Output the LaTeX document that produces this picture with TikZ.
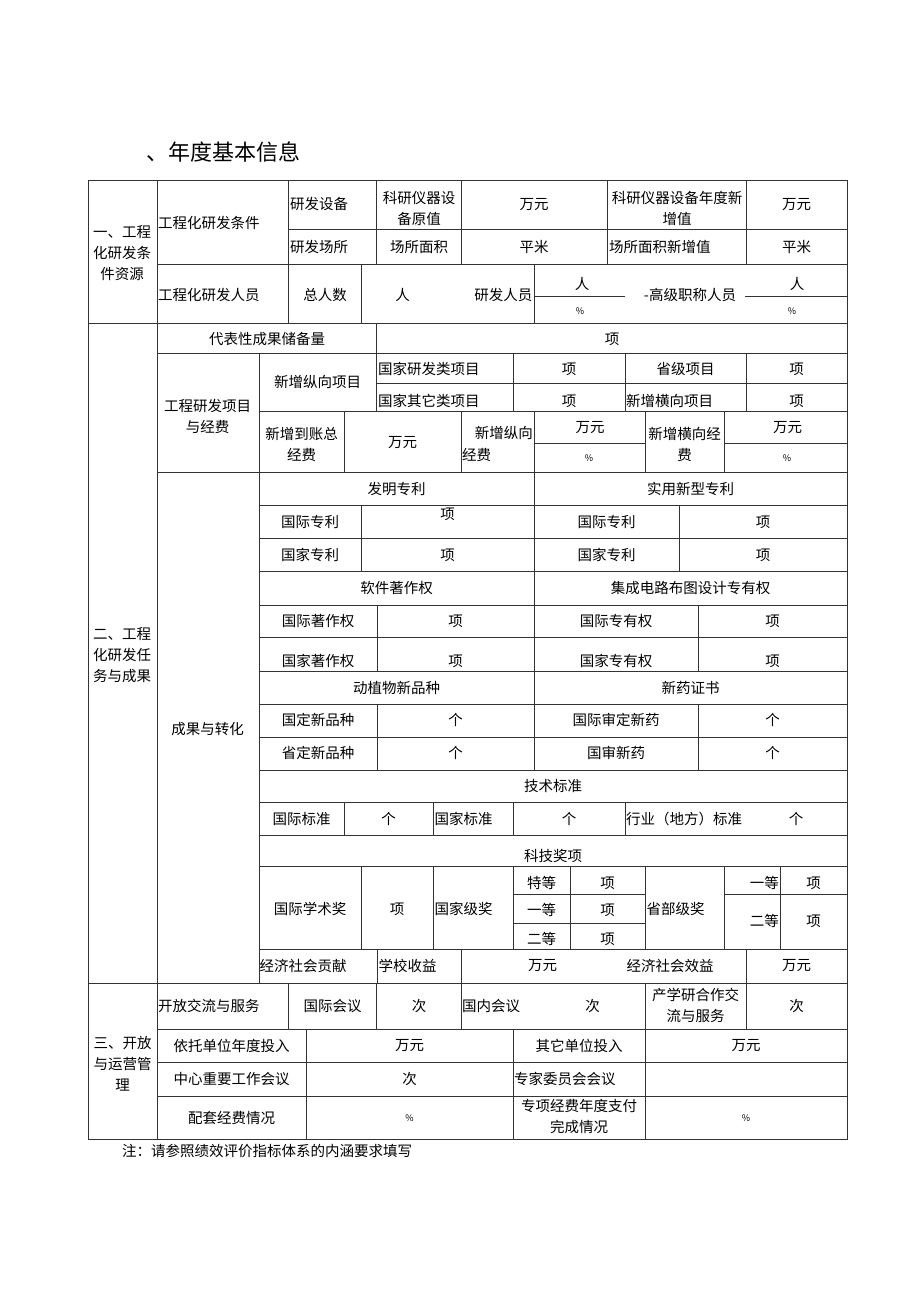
\documentclass[tikz,border=0pt]{standalone}
\usepackage{fontspec}
\setmainfont{Noto Sans CJK SC}
\tikzset{
  cell/.style={inner sep=0pt, font=\fontsize{14.5}{21}\selectfont, align=center},
  lft/.style={cell, anchor=west},
  pct/.style={inner sep=0pt, font=\fontsize{9}{10}\selectfont},
  grid/.style={line width=0.8pt, black!80}
}

\begin{document}
\begin{tikzpicture}[x=1pt,y=-1pt]
      \useasboundingbox[fill=white] (0,0) rectangle (920,1301);
      \node[anchor=west, inner sep=0pt, font=\fontsize{22}{24}\selectfont] (title) at (146,152) {、年度基本信息};
      %%%%%%%%%%%%%%%%%%%%%%%%%%%%%%%%%%%%%%%%%%%%%%%
      \draw[grid] (88,180) rectangle (847,1139);
      \draw[grid] (157,180) -- (157,1139)
            (88,323) -- (847,323)
            (88,983) -- (847,983);
      %%%%%%%%%%%%%%%%%%%%%%%%%%%%%%%%%%%%%%%%%%%%%%%
      \draw[grid] (288.5,180) -- (288.5,323)
            (288.5,229) -- (847,229)
            (157,264) -- (847,264)
            (376.5,180) -- (376.5,264)
            (461,180) -- (461,264)
            (607.5,180) -- (607.5,264)
            (746,180) -- (746,264)
            (361,264) -- (361,323)
            (534,264) -- (534,323)
            (534,296) -- (625,296)
            (745,296) -- (847,296);
      \node[cell] (s1) at (122,253) {一、工程\\化研发条\\件资源};
      \node[lft] (c1) at (158,223) {工程化研发条件};
      \node[lft] (c11) at (290,204) {研发设备};
      \node[cell] (c12) at (419,208) {科研仪器设\\备原值};
      \node[cell] (c13) at (534,205) {万元};
      \node[cell] (c14) at (677,208) {科研仪器设备年度新\\增值};
      \node[cell] (c15) at (796.5,205) {万元};
      \node[lft] (c21) at (290,247) {研发场所};
      \node[cell] (c22) at (419,247) {场所面积};
      \node[cell] (c23) at (534,247) {平米};
      \node[lft] (c24) at (609,247) {场所面积新增值};
      \node[cell] (c25) at (796.5,247) {平米};
      \node[lft] (p1) at (158,295) {工程化研发人员};
      \node[cell] (p2) at (325,295) {总人数};
      \node[cell] (p3) at (402.5,295) {人};
      \node[cell, anchor=east] (p4) at (532.5,295) {研发人员};
      \node[cell] (p5) at (582,284) {人};
      \node[pct] (p6) at (580,311) {\%};
      \node[cell] (p7) at (690,295) {-高级职称人员};
      \node[cell] (p8) at (797,284) {人};
      \node[pct] (p9) at (792,311) {\%};
      %%%%%%%%%%%%%%%%%%%%%%%%%%%%%%%%%%%%%%%%%%%%%%%
      \draw[grid] (157,353) -- (847,353)
            (376.5,323) -- (376.5,353)
            (259,353) -- (259,983)
            (376.5,383) -- (847,383)
            (376.5,353) -- (376.5,411)
            (513,353) -- (513,411)
            (625,353) -- (625,411)
            (746,353) -- (746,411)
            (259,411) -- (847,411)
            (344,411) -- (344,472.5)
            (461,411) -- (461,472.5)
            (534,411) -- (534,472.5)
            (645,411) -- (645,472.5)
            (724,411) -- (724,472.5)
            (534,443) -- (645,443)
            (724,443) -- (847,443)
            (157,472.5) -- (847,472.5);
      \node[cell] (d1) at (267,339) {代表性成果储备量};
      \node[cell] (d2) at (612,339) {项};
      \node[cell] (e0) at (207.5,416) {工程研发项目\\与经费};
      \node[cell] (e1) at (317.5,382) {新增纵向项目};
      \node[lft] (e11) at (378,369) {国家研发类项目};
      \node[cell] (e12) at (569,369) {项};
      \node[cell] (e13) at (685.5,369) {省级项目};
      \node[cell] (e14) at (796.5,369) {项};
      \node[lft] (e21) at (378,401) {国家其它类项目};
      \node[cell] (e22) at (569,401) {项};
      \node[lft] (e23) at (626,401) {新增横向项目};
      \node[cell] (e24) at (796.5,401) {项};
      \node[cell] (f1) at (301.5,444) {新增到账总\\经费};
      \node[cell] (f2) at (402.5,443) {万元};
      \node[cell, anchor=east] (f3) at (533,433) {新增纵向};
      \node[lft] (f4) at (462,455) {经费};
      \node[cell] (f5) at (590,428) {万元};
      \node[pct] (f6) at (589,458) {\%};
      \node[cell] (f7) at (684.5,444) {新增横向经\\费};
      \node[cell] (f8) at (787.5,428) {万元};
      \node[pct] (f9) at (787,458) {\%};
      %%%%%%%%%%%%%%%%%%%%%%%%%%%%%%%%%%%%%%%%%%%%%%%
      \foreach \yy in {505,538,571,605,637,671,704,737,770,802,835,866,949}
        \draw[grid] (259,\yy) -- (847,\yy);
      \draw[grid] (534,472.5) -- (534,770)
            (361,505) -- (361,571)
            (679,505) -- (679,571)
            (377.5,605) -- (377.5,671)
            (698,605) -- (698,671)
            (377.5,704) -- (377.5,770)
            (698,704) -- (698,770);
      \node[cell] (s2) at (122,655) {二、工程\\化研发任\\务与成果};
      \node[cell] (g0) at (207.5,729) {成果与转化};
      \node[cell] (h1) at (396.5,489) {发明专利};
      \node[cell] (h2) at (690.5,489) {实用新型专利};
      \node[cell] (h11) at (310,522) {国际专利};
      \node[cell] (h12) at (447.5,514) {项};
      \node[cell] (h13) at (606.5,522) {国际专利};
      \node[cell] (h14) at (763,522) {项};
      \node[cell] (h21) at (310,555) {国家专利};
      \node[cell] (h22) at (447.5,555) {项};
      \node[cell] (h23) at (606.5,555) {国家专利};
      \node[cell] (h24) at (763,555) {项};
      \node[cell] (k1) at (396.5,588) {软件著作权};
      \node[cell] (k2) at (690.5,588) {集成电路布图设计专有权};
      \node[cell] (k11) at (318,621) {国际著作权};
      \node[cell] (k12) at (455.5,621) {项};
      \node[cell] (k13) at (616,621) {国际专有权};
      \node[cell] (k14) at (772.5,621) {项};
      \node[cell] (k21) at (318,661) {国家著作权};
      \node[cell] (k22) at (455.5,661) {项};
      \node[cell] (k23) at (616,661) {国家专有权};
      \node[cell] (k24) at (772.5,661) {项};
      \node[cell] (m1) at (396.5,688) {动植物新品种};
      \node[cell] (m2) at (690.5,688) {新药证书};
      \node[cell] (m11) at (318,720) {国定新品种};
      \node[cell] (m12) at (455.5,720) {个};
      \node[cell] (m13) at (616,720) {国际审定新药};
      \node[cell] (m14) at (772.5,720) {个};
      \node[cell] (m21) at (318,753) {省定新品种};
      \node[cell] (m22) at (455.5,753) {个};
      \node[cell] (m23) at (616,753) {国审新药};
      \node[cell] (m24) at (772.5,753) {个};
      %%%%%%%%%%%%%%%%%%%%%%%%%%%%%%%%%%%%%%%%%%%%%%%
      \draw[grid] (344,802) -- (344,835)
            (433.5,802) -- (433.5,835)
            (513,802) -- (513,835)
            (625,802) -- (625,835);
      \node[cell] (n0) at (553,786) {技术标准};
      \node[cell] (n1) at (301.5,819) {国际标准};
      \node[cell] (n2) at (388.5,819) {个};
      \node[lft] (n3) at (434.5,819) {国家标准};
      \node[cell] (n4) at (569,819) {个};
      \node[lft] (n5) at (626,819) {行业（地方）标准};
      \node[cell] (n6) at (796,819) {个};
      %%%%%%%%%%%%%%%%%%%%%%%%%%%%%%%%%%%%%%%%%%%%%%%
      \draw[grid] (361,866) -- (361,949)
            (433.5,866) -- (433.5,949)
            (513,866) -- (513,949)
            (570,866) -- (570,949)
            (645,866) -- (645,949)
            (724,866) -- (724,949)
            (780,866) -- (780,949)
            (513,894) -- (645,894)
            (513,923) -- (645,923)
            (724,894) -- (847,894);
      \node[cell] (r0) at (553,856) {科技奖项};
      \node[cell] (r1) at (310,909) {国际学术奖};
      \node[cell] (r2) at (397,909) {项};
      \node[lft] (r3) at (434.5,909) {国家级奖};
      \node[cell] (r4) at (541.5,883) {特等};
      \node[cell] (r5) at (607.5,883) {项};
      \node[cell] (r6) at (541.5,910) {一等};
      \node[cell] (r7) at (607.5,910) {项};
      \node[cell] (r8) at (541.5,939) {二等};
      \node[cell] (r9) at (607.5,939) {项};
      \node[lft] (r10) at (646.5,909) {省部级奖};
      \node[cell, anchor=east] (r11) at (779,883) {一等};
      \node[cell] (r12) at (813.5,883) {项};
      \node[cell, anchor=east] (r13) at (779,921) {二等};
      \node[cell] (r14) at (813.5,921) {项};
      %%%%%%%%%%%%%%%%%%%%%%%%%%%%%%%%%%%%%%%%%%%%%%%
      \draw[grid] (377.5,949) -- (377.5,983)
            (461,949) -- (461,983)
            (746,949) -- (746,983);
      \node[lft] (t1) at (259.5,966) {经济社会贡献};
      \node[lft] (t2) at (378.5,966) {学校收益};
      \node[cell] (t3) at (542.5,966) {万元};
      \node[cell] (t4) at (670,966) {经济社会效益};
      \node[cell] (t5) at (796.5,966) {万元};
      %%%%%%%%%%%%%%%%%%%%%%%%%%%%%%%%%%%%%%%%%%%%%%%
      \draw[grid] (288.5,983) -- (288.5,1029)
            (376.5,983) -- (376.5,1029)
            (461,983) -- (461,1029)
            (645,983) -- (645,1029)
            (746,983) -- (746,1029)
            (157,1029) -- (847,1029)
            (157,1062) -- (847,1062)
            (157,1096) -- (847,1096)
            (306.5,1029) -- (306.5,1139)
            (513,1029) -- (513,1139)
            (645,1029) -- (645,1139);
      \node[cell] (s3) at (122.5,1064) {三、开放\\与运营管\\理};
      \node[lft] (u1) at (158,1006) {开放交流与服务};
      \node[cell] (u2) at (332.5,1006) {国际会议};
      \node[cell] (u3) at (419,1006) {次};
      \node[lft] (u4) at (462,1006) {国内会议};
      \node[cell] (u5) at (592.5,1006) {次};
      \node[cell] (u6) at (695.5,1005) {产学研合作交\\流与服务};
      \node[cell] (u7) at (796.5,1006) {次};
      \node[cell] (v1) at (231.5,1046) {依托单位年度投入};
      \node[cell] (v2) at (409.5,1046) {万元};
      \node[cell] (v3) at (579,1046) {其它单位投入};
      \node[cell] (v4) at (746,1046) {万元};
      \node[cell] (w1) at (231.5,1079) {中心重要工作会议};
      \node[cell] (w2) at (409.5,1079) {次};
      \node[lft] (w3) at (514,1079) {专家委员会会议};
      \node[cell] (x1) at (231.5,1118) {配套经费情况};
      \node[pct] (x2) at (409.5,1118) {\%};
      \node[cell] (x3) at (579,1116) {专项经费年度支付\\完成情况};
      \node[pct] (x4) at (746,1118) {\%};
      %%%%%%%%%%%%%%%%%%%%%%%%%%%%%%%%%%%%%%%%%%%%%%%
      \node[lft] (note) at (122,1151) {注：请参照绩效评价指标体系的内涵要求填写};
\end{tikzpicture}
\end{document}
